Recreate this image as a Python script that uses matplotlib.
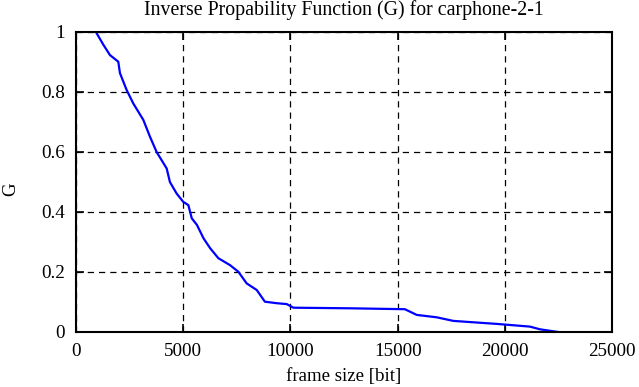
import matplotlib
matplotlib.use("Agg")
import matplotlib.pyplot as plt

frame_size = [930, 1280, 1585, 1972, 2050, 2360, 2670, 3140, 3450, 3760, 4230, 4380,
              4690, 5000, 5240, 5400, 5640, 5950, 6260, 6640, 7180, 7570, 7960, 8430,
              8810, 9360, 9830, 10140, 12770, 15340, 15890, 16820, 17600, 19620,
              21170, 21640, 22490]
G = [1.0, 0.957, 0.923, 0.901, 0.863, 0.807, 0.762, 0.707, 0.651, 0.60, 0.545, 0.50,
     0.462, 0.434, 0.423, 0.379, 0.357, 0.312, 0.279, 0.246, 0.223, 0.201, 0.162, 0.14,
     0.101, 0.096, 0.093, 0.081, 0.079, 0.076, 0.057, 0.049, 0.037, 0.027,
     0.018, 0.009, 0.0]
xticks = [0, 5000, 10000, 15000, 20000, 25000]
yticks = [0, 0.2, 0.4, 0.6, 0.8, 1]
ytick_labels = ["0", "0.2", "0.4", "0.6", "0.8", "1"]

plt.rcParams['font.family'] = ['Liberation Serif', 'DejaVu Serif']
fig = plt.figure(figsize=(6.39, 3.87), dpi=100)
ax = fig.add_axes([76/639, 1-332/387, (612-76)/639, (332-32)/387])
ax.plot(frame_size, G, color='#0000ff', lw=1.6)
ax.set_xlim(0, 25000)
ax.set_ylim(0, 1)
ax.set_xticks(xticks)
ax.set_xticklabels([str(t) for t in xticks])
ax.set_yticks(yticks)
ax.set_yticklabels(ytick_labels)
ax.grid(True, color='black', linestyle=(0, (5, 4)), lw=0.9)
ax.tick_params(direction='in', top=True, right=True, length=6, width=1.2, labelsize=13.8)
ax.tick_params(axis='x', pad=8)
ax.tick_params(axis='y', pad=8)
for s in ax.spines.values():
    s.set_linewidth(1.5)
ax.set_title("Inverse Propability Function (G) for carphone-2-1", fontsize=14.3, pad=12)
ax.set_xlabel("frame size [bit]", fontsize=13.6, labelpad=6)
ax.set_ylabel("G", fontsize=13.6)
ax.yaxis.set_label_coords(-(76 - 19) / 536, (332 - 189) / 300)
fig.savefig("out.png", dpi=100)
